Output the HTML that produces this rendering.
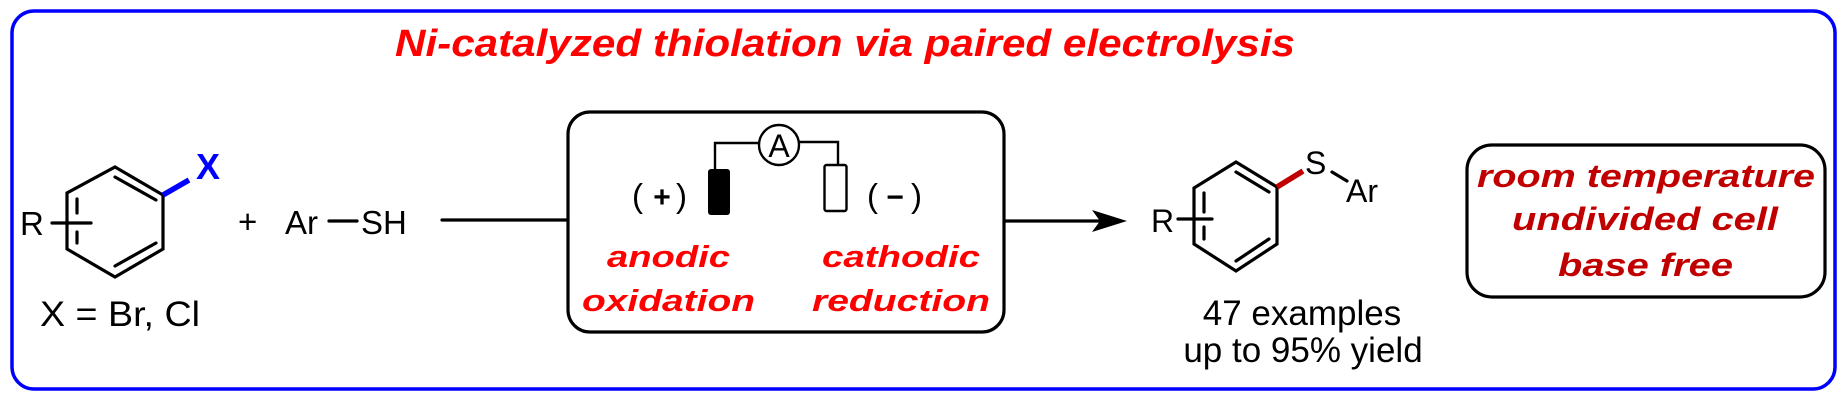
<!DOCTYPE html>
<html><head><meta charset="utf-8"><style>
html,body{margin:0;padding:0;background:#fff;}
svg{display:block;}
text{font-family:"Liberation Sans",Arial,sans-serif;}
</style></head><body>
<svg width="1848" height="401" viewBox="0 0 1848 401" xmlns="http://www.w3.org/2000/svg">
<rect x="12" y="11" width="1823" height="378" rx="22" fill="none" stroke="#0000ff" stroke-width="3.5"/>
<text x="395" y="56" font-size="38" font-weight="bold" font-style="italic" fill="#ff0000" textLength="900" lengthAdjust="spacingAndGlyphs">Ni-catalyzed thiolation via paired electrolysis</text>

<g stroke="#000" stroke-width="3.2" fill="none" stroke-linecap="round">
<polygon points="115,167 163,195 163,249 115,277 67,249 67,193"/>
<line x1="115" y1="177" x2="156" y2="200"/>
<line x1="115" y1="266" x2="156" y2="243"/>
<line x1="77" y1="199" x2="77" y2="213"/>
<line x1="77" y1="232" x2="77" y2="243"/>
<line x1="52" y1="223" x2="91" y2="223"/>
<line x1="329" y1="221" x2="357" y2="221"/>
<line x1="442" y1="220" x2="568" y2="220"/>
</g>
<line x1="163" y1="195" x2="189" y2="180" stroke="#0000ff" stroke-width="5.5"/>
<text x="196" y="179" font-size="36" font-weight="bold" fill="#0000ff">X</text>
<text x="20" y="235" font-size="33">R</text>
<text x="238" y="233" font-size="33">+</text>
<text x="285" y="234" font-size="33">Ar</text>
<text x="361" y="234" font-size="33">SH</text>
<text x="40" y="326" font-size="35" textLength="160" lengthAdjust="spacingAndGlyphs">X = Br, Cl</text>

<rect x="568" y="112" width="436" height="220" rx="22" fill="none" stroke="#000" stroke-width="3.2"/>
<g stroke="#000" stroke-width="2.4" fill="none">
<polyline points="715,169 715,143 759,143"/>
<polyline points="799,142 838,142 838,165"/>
<circle cx="779" cy="145" r="20"/>
<rect x="824.5" y="165" width="22" height="46" rx="2"/>
</g>
<rect x="708" y="169" width="22" height="46" rx="3" fill="#000"/>
<text x="779" y="157" font-size="32" text-anchor="middle">A</text>
<text x="632" y="207" font-size="33">(</text>
<text x="662" y="207" font-size="30" font-weight="bold" text-anchor="middle">+</text>
<text x="676" y="207" font-size="33">)</text>
<text x="867" y="207" font-size="33">(</text>
<text x="895" y="207" font-size="30" font-weight="bold" text-anchor="middle">−</text>
<text x="911" y="207" font-size="33">)</text>
<g font-size="31" font-weight="bold" font-style="italic" fill="#ff0000">
<text x="607" y="267" textLength="123" lengthAdjust="spacingAndGlyphs">anodic</text>
<text x="582" y="311" textLength="173" lengthAdjust="spacingAndGlyphs">oxidation</text>
<text x="822" y="267" textLength="158" lengthAdjust="spacingAndGlyphs">cathodic</text>
<text x="812" y="311" textLength="178" lengthAdjust="spacingAndGlyphs">reduction</text>
</g>

<line x1="1004" y1="221" x2="1100" y2="221" stroke="#000" stroke-width="3.2"/>
<polygon points="1127,221 1092,210 1100,221 1092,232" fill="#000"/>

<g stroke="#000" stroke-width="3.2" fill="none" stroke-linecap="round">
<polygon points="1236,162 1277,187 1277,244 1236,271 1194,244 1194,188"/>
<line x1="1236" y1="172" x2="1269" y2="192"/>
<line x1="1236" y1="261" x2="1269" y2="239"/>
<line x1="1204" y1="193" x2="1204" y2="212"/>
<line x1="1204" y1="227" x2="1204" y2="239"/>
<line x1="1178" y1="219" x2="1212" y2="219"/>
<line x1="1332" y1="172" x2="1347" y2="181"/>
</g>
<line x1="1277" y1="187" x2="1303" y2="171" stroke="#c00000" stroke-width="5.5"/>
<text x="1305" y="174" font-size="32">S</text>
<text x="1346" y="202" font-size="32">Ar</text>
<text x="1151" y="232" font-size="32">R</text>
<text x="1302" y="325" font-size="35" text-anchor="middle">47 examples</text>
<text x="1303" y="362" font-size="35" text-anchor="middle">up to 95% yield</text>

<rect x="1467" y="145" width="358" height="152" rx="25" fill="none" stroke="#000" stroke-width="3.2"/>
<g font-size="32" font-weight="bold" font-style="italic" fill="#c00000">
<text x="1477" y="187" textLength="338" lengthAdjust="spacingAndGlyphs">room temperature</text>
<text x="1512" y="230" textLength="266" lengthAdjust="spacingAndGlyphs">undivided cell</text>
<text x="1558" y="276" textLength="175" lengthAdjust="spacingAndGlyphs">base free</text>
</g>
</svg>
</body></html>
